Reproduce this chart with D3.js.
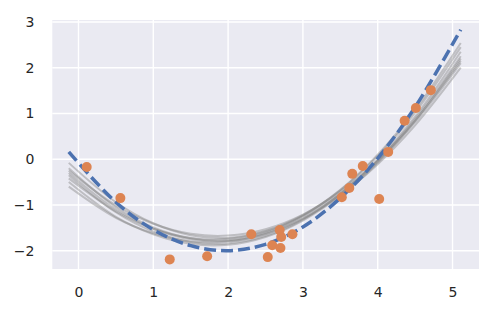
<!DOCTYPE html>
<html>
<head>
<meta charset="utf-8">
<script src="https://cdn.jsdelivr.net/npm/d3@7"></script>
<style>
    body { margin: 0; background: #fff; }
    #chart { width: 500px; height: 311px; }
    .tick text { font-family: "DejaVu Sans", sans-serif; font-size: 14px; fill: #262626; }
</style>
</head>
<body>
<div id="chart"></div>
<script>
// observed points
var obsX = [0.11, 0.56, 1.22, 1.72, 2.31, 2.53, 2.59, 2.69, 2.71, 2.70, 2.86, 3.52, 3.62, 3.66, 3.80, 4.02, 4.14, 4.36, 4.51, 4.71];
var obsY = [-0.17, -0.85, -2.19, -2.12, -1.64, -2.14, -1.88, -1.55, -1.70, -1.94, -1.64, -0.83, -0.63, -0.32, -0.15, -0.87, 0.16, 0.84, 1.12, 1.51];

// x positions where the curves were read
var curveX = [-0.13, 0.5, 1, 1.5, 2, 2.5, 3, 3.5, 4, 4.5, 5.11];

// true curve (dashed)
var trueY = [0.16, -0.94, -1.54, -1.89, -2.00, -1.86, -1.48, -0.85, 0.02, 1.14, 2.83];

// sampled curves (gray)
var sampleY = [
    [-0.08, -0.94, -1.40, -1.66, -1.72, -1.57, -1.22, -0.68, 0.07, 1.02, 2.45],
    [-0.20, -1.05, -1.49, -1.73, -1.77, -1.61, -1.24, -0.67, 0.10, 1.08, 2.54],
    [-0.30, -1.10, -1.52, -1.75, -1.79, -1.64, -1.30, -0.76, -0.04, 0.88, 2.25],
    [-0.35, -1.16, -1.58, -1.81, -1.84, -1.68, -1.32, -0.76, -0.01, 0.93, 2.35],
    [-0.42, -1.14, -1.52, -1.72, -1.74, -1.58, -1.25, -0.74, -0.05, 0.81, 2.10],
    [-0.50, -1.26, -1.64, -1.85, -1.87, -1.70, -1.34, -0.80, -0.08, 0.84, 2.20],
    [-0.60, -1.28, -1.62, -1.80, -1.80, -1.63, -1.30, -0.79, -0.11, 0.74, 2.00],
    [-0.25, -1.01, -1.41, -1.63, -1.67, -1.53, -1.21, -0.70, -0.02, 0.85, 2.15]
];

var xTicks = [0, 1, 2, 3, 4, 5];
var yTicks = [-2, -1, 0, 1, 2, 3];

var margin = {
        top: 20,
        right: 21,
        bottom: 42,
        left: 52.3
    },
    width = 500 - margin.left - margin.right,
    height = 311 - margin.top - margin.bottom;

var svg = d3.select("#chart")
    .append("svg")
    .attr("width", 500)
    .attr("height", 311)
    .append("g")
    .attr("transform", "translate(" + margin.left + "," + margin.top + ")");

var x = d3.scaleLinear()
    .domain([-0.35, 5.354])
    .range([0, width]);

var y = d3.scaleLinear()
    .domain([-2.40, 3.043])
    .range([height, 0]);

svg.append("rect")
    .attr("width", width)
    .attr("height", height)
    .style("fill", "#eaeaf2");

// grid
svg.append("g")
    .selectAll("line")
    .data(xTicks)
    .enter()
    .append("line")
    .attr("x1", function (d) { return x(d); })
    .attr("x2", function (d) { return x(d); })
    .attr("y1", 0)
    .attr("y2", height)
    .style("stroke", "#fff")
    .style("stroke-width", 1.4);

svg.append("g")
    .selectAll("line")
    .data(yTicks)
    .enter()
    .append("line")
    .attr("x1", 0)
    .attr("x2", width)
    .attr("y1", function (d) { return y(d); })
    .attr("y2", function (d) { return y(d); })
    .style("stroke", "#fff")
    .style("stroke-width", 1.4);

// axes (labels only)
svg.append("g")
    .attr("transform", "translate(0," + height + ")")
    .call(d3.axisBottom(x).tickValues(xTicks).tickSize(0).tickPadding(18).tickFormat(d3.format("d")))
    .call(function (g) { g.select(".domain").remove(); });

svg.append("g")
    .call(d3.axisLeft(y).tickValues(yTicks).tickSize(0).tickPadding(18)
        .tickFormat(function (d) { return d < 0 ? "\u2212" + Math.abs(d) : d; }))
    .call(function (g) { g.select(".domain").remove(); });

var line = d3.line()
    .x(function (d, i) { return x(curveX[i]); })
    .y(function (d) { return y(d); })
    .curve(d3.curveCatmullRom.alpha(0.5));

svg.append("g")
    .selectAll("path")
    .data(sampleY)
    .enter()
    .append("path")
    .attr("d", line)
    .style("fill", "none")
    .style("stroke", "#808080")
    .style("stroke-width", 2)
    .style("stroke-opacity", 0.42);

svg.append("path")
    .datum(trueY)
    .attr("d", line)
    .style("fill", "none")
    .style("stroke", "#4c72b0")
    .style("stroke-width", 3.5)
    .style("stroke-dasharray", "12,5");

svg.selectAll(".dot")
    .data(obsX)
    .enter()
    .append("circle")
    .attr("class", "dot")
    .attr("cx", function (d) { return x(d); })
    .attr("cy", function (d, i) { return y(obsY[i]); })
    .attr("r", 5)
    .style("fill", "#dd8452");
</script>
</body>
</html>
